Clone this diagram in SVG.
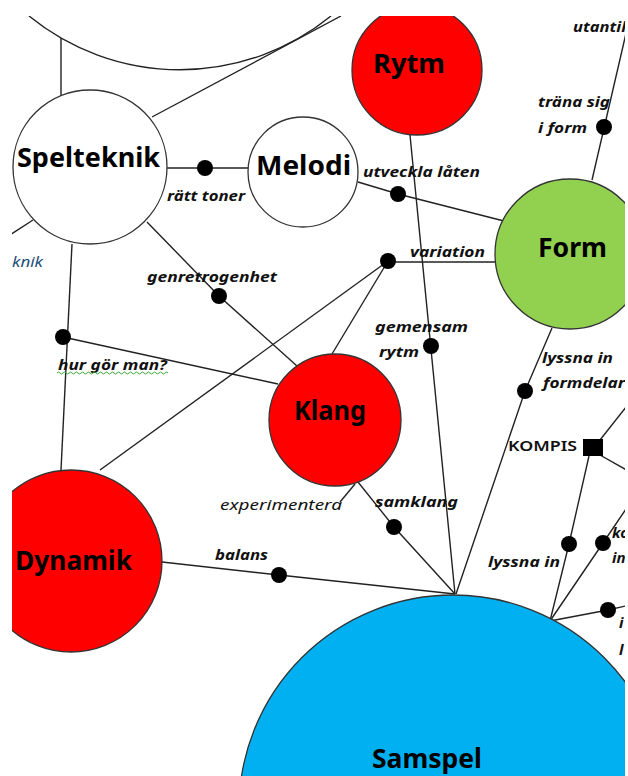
<svg xmlns="http://www.w3.org/2000/svg" width="628" height="776" viewBox="0 0 628 776">
<defs>
<clipPath id="crop"><rect x="12" y="16" width="613" height="760"/></clipPath>
<style>
.ln{fill:none;stroke:#222;stroke-width:1.4}
.dot{fill:#000}
.nd{stroke:#333;stroke-width:1.3}
.white{fill:#fff}
.red{fill:#ff0000}
.green{fill:#92d050}
.blue{fill:#00b0f0}
.nl{font-family:"Noto Sans","Open Sans",sans-serif;font-weight:bold;font-size:27px;fill:#000}
.lb{font-family:"Noto Sans","Open Sans",sans-serif;font-weight:bold;font-style:italic;font-size:15px;fill:#111}
.li{font-family:"Noto Sans","Open Sans",sans-serif;font-style:italic;font-size:15px;fill:#111}
.up{font-family:"Noto Sans","Open Sans",sans-serif;font-weight:600;font-size:15px;fill:#111}
</style>
</defs>
<rect width="628" height="776" fill="#fff"/>
<g clip-path="url(#crop)">
<g id="connectors">
<path class="ln" d="M29,16 A239,239 0 0 0 331,16"/>
<line class="ln" x1="61" y1="38" x2="61" y2="96"/>
<line class="ln" x1="341" y1="16" x2="152" y2="117"/>
<line class="ln" x1="167" y1="168" x2="248" y2="168"/>
<line class="ln" x1="33" y1="220" x2="10" y2="235"/>
<line class="ln" x1="72" y1="244" x2="61" y2="470"/>
<line class="ln" x1="63" y1="337" x2="278" y2="384"/>
<polyline class="ln" points="147,222 219,296 297,366"/>
<line class="ln" x1="388" y1="261" x2="100" y2="470"/>
<line class="ln" x1="388" y1="261" x2="332" y2="354"/>
<line class="ln" x1="388" y1="262" x2="496" y2="262"/>
<line class="ln" x1="410" y1="135" x2="455" y2="594"/>
<polyline class="ln" points="358,182 398,194 504,221"/>
<line class="ln" x1="592" y1="180" x2="630" y2="16"/>
<polyline class="ln" points="552,328 525,391 456,594"/>
<polyline class="ln" points="358,482 394,527 455,594"/>
<line class="ln" x1="355" y1="484" x2="340" y2="502"/>
<polyline class="ln" points="162,562 279,575 455,594"/>
<line class="ln" x1="600" y1="440" x2="630" y2="402"/>
<line class="ln" x1="600" y1="455" x2="630" y2="472"/>
<polyline class="ln" points="589,456 569,544 550,621"/>
<polyline class="ln" points="550,621 603,543 630,503"/>
<polyline class="ln" points="550,621 608,610 630,605"/>
<circle class="dot" cx="205" cy="168" r="8"/>
<circle class="dot" cx="63" cy="337" r="8"/>
<circle class="dot" cx="219" cy="296" r="8"/>
<circle class="dot" cx="388" cy="261" r="8"/>
<circle class="dot" cx="431" cy="346" r="8"/>
<circle class="dot" cx="398" cy="194" r="8"/>
<circle class="dot" cx="604" cy="127" r="8"/>
<circle class="dot" cx="525" cy="391" r="8"/>
<circle class="dot" cx="394" cy="527" r="8"/>
<circle class="dot" cx="279" cy="575" r="8"/>
<circle class="dot" cx="569" cy="544" r="8"/>
<circle class="dot" cx="603" cy="543" r="8"/>
<circle class="dot" cx="608" cy="610" r="8"/>
</g>
<g id="node-spelteknik">
<circle class="nd white" cx="90" cy="167" r="77"/>
<text class="nl" x="17" y="167" textLength="143" lengthAdjust="spacingAndGlyphs">Spelteknik</text>
</g>
<g id="node-melodi">
<circle class="nd white" cx="303" cy="172" r="55"/>
<text class="nl" x="256" y="175" textLength="95" lengthAdjust="spacingAndGlyphs">Melodi</text>
</g>
<g id="node-rytm">
<circle class="nd red" cx="417" cy="70" r="65"/>
<text class="nl" x="373" y="73" textLength="72" lengthAdjust="spacingAndGlyphs">Rytm</text>
</g>
<g id="node-form">
<circle class="nd green" cx="570" cy="254" r="75"/>
<text class="nl" x="538" y="257" textLength="69" lengthAdjust="spacingAndGlyphs">Form</text>
</g>
<g id="node-klang">
<circle class="nd red" cx="335" cy="420" r="66"/>
<text class="nl" x="294" y="420" textLength="72" lengthAdjust="spacingAndGlyphs">Klang</text>
</g>
<g id="node-dynamik">
<circle class="nd red" cx="71" cy="561" r="91"/>
<text class="nl" x="15" y="570" textLength="117" lengthAdjust="spacingAndGlyphs">Dynamik</text>
</g>
<g id="node-samspel">
<circle class="nd blue" cx="453" cy="809" r="214"/>
<text class="nl" x="372" y="768" textLength="110" lengthAdjust="spacingAndGlyphs">Samspel</text>
</g>
<g id="node-kompis">
<rect x="583" y="439" width="20" height="17" fill="#000"/>
<text class="up" x="508" y="451" textLength="69" lengthAdjust="spacingAndGlyphs">KOMPIS</text>
</g>
<g id="labels">
<text class="lb" x="167" y="201" textLength="78" lengthAdjust="spacingAndGlyphs">rätt toner</text>
<text class="lb" x="363" y="177" textLength="117" lengthAdjust="spacingAndGlyphs">utveckla låten</text>
<text class="lb" x="538" y="107" textLength="72" lengthAdjust="spacingAndGlyphs">träna sig</text>
<text class="lb" x="538" y="133" textLength="49" lengthAdjust="spacingAndGlyphs">i form</text>
<text class="lb" x="573" y="32" textLength="58" lengthAdjust="spacingAndGlyphs">utantill</text>
<text class="lb" x="410" y="257" textLength="75" lengthAdjust="spacingAndGlyphs">variation</text>
<text class="lb" x="147" y="282" textLength="130" lengthAdjust="spacingAndGlyphs">genretrogenhet</text>
<text class="li" x="12" y="267" textLength="31" lengthAdjust="spacingAndGlyphs" style="fill:#1f4e79">knik</text>
<text class="lb" x="375" y="332" textLength="93" lengthAdjust="spacingAndGlyphs">gemensam</text>
<text class="lb" x="379" y="357" textLength="40" lengthAdjust="spacingAndGlyphs">rytm</text>
<text class="lb" x="58" y="370" textLength="109" lengthAdjust="spacingAndGlyphs">hur gör man?</text>
<path d="M57,373 q1.5,-2 3,0 t3,0 t3,0 t3,0 t3,0 t3,0 t3,0 t3,0 t3,0 t3,0 t3,0 t3,0 t3,0 t3,0 t3,0 t3,0 t3,0 t3,0 t3,0 t3,0 t3,0 t3,0 t3,0 t3,0 t3,0 t3,0 t3,0 t3,0 t3,0 t3,0 t3,0 t3,0 t3,0 t3,0 t3,0 t3,0 t3,0" fill="none" stroke="#3aa63a" stroke-width="1"/>
<text class="lb" x="542" y="363" textLength="71" lengthAdjust="spacingAndGlyphs">lyssna in</text>
<text class="lb" x="543" y="388" textLength="82" lengthAdjust="spacingAndGlyphs">formdelar</text>
<text class="li" x="220" y="510" textLength="122" lengthAdjust="spacingAndGlyphs">experimentera</text>
<text class="lb" x="375" y="507" textLength="83" lengthAdjust="spacingAndGlyphs">samklang</text>
<text class="lb" x="215" y="560" textLength="53" lengthAdjust="spacingAndGlyphs">balans</text>
<text class="lb" x="488" y="567" textLength="72" lengthAdjust="spacingAndGlyphs">lyssna in</text>
<text class="lb" x="612" y="538">ko</text>
<text class="lb" x="612" y="563">in</text>
<text class="lb" x="619" y="628">i</text>
<text class="lb" x="619" y="655">l</text>
</g>
</g>
</svg>
